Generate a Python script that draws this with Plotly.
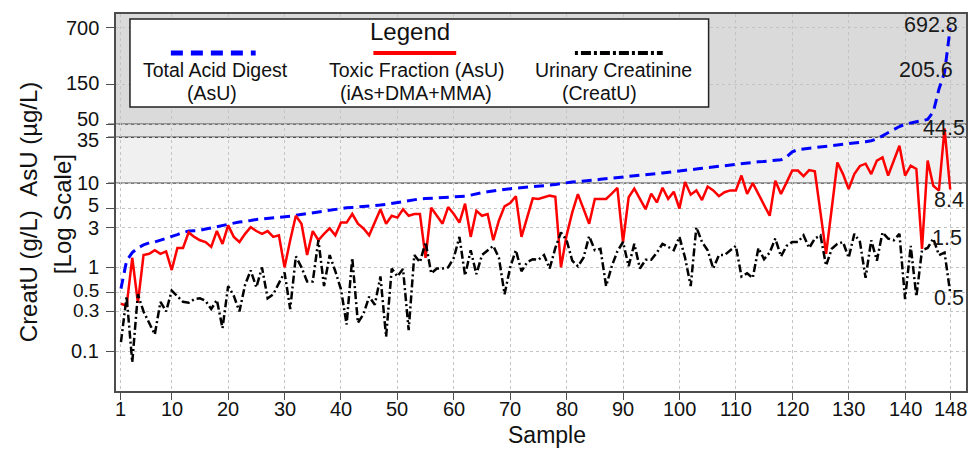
import numpy as np
import plotly.graph_objects as go

# ---------------- data ----------------
total_acid_digest = [
    0.56, 1.2, 1.5, 1.7, 1.85, 1.95, 2.0, 2.1, 2.2, 2.3,
    2.45, 2.6, 2.7, 2.72, 2.75, 2.85, 2.95, 3.05, 3.15, 3.3,
    3.35, 3.45, 3.5, 3.6, 3.7, 3.75, 3.8, 3.85, 3.9, 4.0,
    4.05, 4.15, 4.25, 4.35, 4.45, 4.55, 4.65, 4.75, 4.85, 5.0,
    5.1, 5.15, 5.2, 5.25, 5.3, 5.4, 5.5, 5.6, 5.75, 5.9,
    6.0, 6.2, 6.4, 6.5, 6.55, 6.6, 6.65, 6.7, 6.75, 6.8,
    6.9, 7.0, 7.2, 7.5, 7.7, 7.9, 8.1, 8.3, 8.5, 8.6,
    8.7, 8.8, 8.9, 9.0, 9.1, 9.2, 9.4, 9.6, 9.9, 10.2,
    10.3, 10.4, 10.5, 10.7, 10.9, 11.1, 11.3, 11.5, 11.7, 11.9,
    12.0, 12.2, 12.4, 12.6, 12.8, 13.0, 13.2, 13.4, 13.6, 13.8,
    14.1, 14.4, 14.7, 15.0, 15.3, 15.6, 15.9, 16.2, 16.5, 16.8,
    17.1, 17.5, 17.7, 17.9, 18.1, 18.3, 18.5, 18.9, 20.5, 23.5,
    25.0, 25.5, 26.0, 26.5, 27.0, 27.5, 28.0, 28.5, 29.0, 29.5,
    30.0, 30.5, 31.0, 31.8, 33.5, 36.5, 40.0, 44.0, 47.0, 50.0,
    52.0, 53.5, 55.0, 57.0, 70.0, 130.0, 205.6, 692.8,
]

toxic_fraction = [
    0.37, 0.35, 1.3, 0.38, 1.4, 1.45, 1.6, 1.45, 1.55, 0.93,
    1.7, 1.7, 2.6, 2.3, 2.1, 2.0, 1.75, 2.7, 1.9, 3.15,
    2.3, 2.0, 2.5, 3.0, 2.7, 2.5, 2.7, 2.3, 2.4, 1.0,
    2.1, 4.1, 3.3, 1.4, 2.7, 2.1, 2.5, 2.9, 2.4, 3.4,
    3.4, 4.3, 3.3, 2.9, 2.4, 3.4, 4.9, 3.3, 4.1, 3.9,
    4.9, 4.1, 4.3, 4.3, 1.3, 5.1, 4.1, 3.3, 5.2, 4.3,
    3.4, 5.7, 2.3, 4.7, 4.1, 4.3, 2.1, 3.6, 5.3, 5.8,
    7.0, 2.3, 3.9, 6.6, 6.5, 6.8, 7.1, 6.9, 1.0, 2.4,
    4.5, 7.4, 5.0, 3.3, 6.5, 6.5, 6.5, 7.5, 8.8, 2.0,
    6.8, 8.6, 6.5, 4.9, 7.5, 5.9, 8.8, 6.5, 7.9, 5.0,
    10.3, 7.3, 8.2, 6.3, 9.1, 8.2, 7.0, 7.8, 8.2, 8.2,
    12.3, 7.45, 10.0, 7.45, 5.5, 4.1, 10.7, 7.45, 10.2, 14.1,
    14.1, 12.1, 14.3, 13.8, 4.5, 1.45, 5.0, 17.6, 12.8, 8.5,
    12.8, 16.0, 17.0, 12.8, 18.5, 20.2, 12.3, 18.0, 27.8, 12.3,
    16.1, 14.7, 1.66, 18.5, 9.3, 8.15, 44.5, 8.4,
]

urinary_creatinine = [
    0.13, 0.45, 0.075, 0.48, 0.30, 0.22, 0.16, 0.39, 0.30, 0.53,
    0.45, 0.39, 0.38, 0.42, 0.43, 0.40, 0.32, 0.41, 0.19, 0.60,
    0.46, 0.30, 0.62, 0.92, 0.58, 1.0, 0.43, 0.48, 0.65, 0.87,
    0.32, 1.35, 1.0, 0.68, 0.68, 2.1, 0.6, 1.4, 0.9, 0.55,
    0.21, 1.3, 0.22, 0.28, 0.45, 0.36, 0.78, 0.15, 0.97, 0.78,
    0.96, 0.18, 1.4, 1.15, 2.0, 0.85, 0.97, 0.97, 1.0, 1.3,
    2.3, 0.8, 1.6, 0.83, 1.4, 1.6, 1.8, 1.3, 0.48, 1.0,
    1.6, 0.9, 1.15, 1.25, 1.23, 1.4, 0.97, 1.7, 2.6, 2.1,
    1.2, 1.03, 1.3, 2.35, 1.6, 1.66, 0.6, 1.03, 1.55, 2.0,
    1.03, 1.9, 0.97, 1.23, 1.23, 1.5, 1.9, 1.75, 1.6, 2.3,
    1.3, 0.6, 3.0, 2.0, 1.6, 0.97, 1.4, 1.4, 1.6, 1.8,
    0.78, 0.85, 0.75, 1.7, 1.25, 1.5, 2.2, 1.35, 1.8, 2.0,
    2.0, 2.4, 1.7, 2.2, 2.4, 1.05, 1.66, 1.9, 2.0, 1.3,
    2.5, 2.0, 0.75, 2.1, 1.2, 2.6, 2.2, 2.1, 2.5, 0.42,
    1.8, 0.45, 1.6, 1.7, 2.2, 1.4, 1.5, 0.5,
]

samples = list(range(1, len(total_acid_digest) + 1))

x_tick_values = [1, 10, 20, 30, 40, 50, 60, 70, 80, 90, 100, 110, 120, 130, 140, 148]
y_tick_values = [0.1, 0.3, 0.5, 1, 3, 5, 10, 35, 50, 150, 700]
y_tick_labels = ["0.1", "0.3", "0.5", "1", "3", "5", "10", "35", "50", "150", "700"]

# value labels at the right edge
value_labels = [692.8, 205.6, 44.5, 8.4, 1.5, 0.5]
value_label_texts = ["692.8", "205.6", "44.5", "8.4", "1.5", "0.5"]

# shaded reference bands (lower, upper, colour) and threshold lines
band_edges = [10, 35, 50, 5000]
band_colors = ["#f0f0f0", "#e3e3e3", "#dadada"]
threshold_values = [10, 35, 50]

# ---------------- layout geometry ----------------
W, H = 971, 450
L, R, T, B = 116, 968, 14, 391
X_RANGE = [0.12, 150.8]
Y_RANGE = [-1.467, 3.007]
FONT = "Liberation Sans, Arial, sans-serif"


def px_x(p):
    return (p - L) / (R - L)


def px_y(p):
    return (B - p) / (B - T)


fig = go.Figure()

fig.add_trace(go.Scatter(
    x=samples, y=total_acid_digest, mode="lines", name="Total Acid Digest (AsU)",
    line=dict(color="#0000ff", width=3, dash="10px,6px"),
))
fig.add_trace(go.Scatter(
    x=samples, y=toxic_fraction, mode="lines", name="Toxic Fraction (AsU)",
    line=dict(color="#ff0000", width=2.5),
))
fig.add_trace(go.Scatter(
    x=samples, y=urinary_creatinine, mode="lines", name="Urinary Creatinine (CreatU)",
    line=dict(color="#000000", width=2.5, dash="8px,3px,2px,3px"),
))

shapes = []
for lo, hi, col in zip(band_edges[:-1], band_edges[1:], band_colors):
    shapes.append(dict(type="rect", xref="paper", yref="y", x0=0, x1=1, y0=lo, y1=hi,
                       fillcolor=col, line=dict(width=0), layer="below"))
for v in threshold_values:
    shapes.append(dict(type="line", xref="paper", yref="y", x0=-8 / (R - L), x1=1, y0=v, y1=v,
                       line=dict(color="#4d4d4d", width=1.3), layer="between"))

# custom legend box
shapes.append(dict(type="rect", xref="paper", yref="paper",
                   x0=px_x(130), x1=px_x(710), y0=px_y(107), y1=px_y(19),
                   fillcolor="white", line=dict(color="#222222", width=1.5), layer="above"))
legend_samples = [
    (171, 256, dict(color="#0000ff", width=5, dash="12px,8px")),
    (374, 457, dict(color="#ff0000", width=4)),
    (576, 664, dict(color="#000000", width=4, dash="3px,3px,10px,3px")),
]
for a, b, ln in legend_samples:
    shapes.append(dict(type="line", xref="paper", yref="paper",
                       x0=px_x(a), x1=px_x(b), y0=px_y(53), y1=px_y(53),
                       line=ln, layer="above"))

annotations = []


def ann(text, xp, yp, size, xanchor="center", angle=0, color="#111111"):
    annotations.append(dict(text=text, xref="paper", yref="paper", x=px_x(xp), y=px_y(yp),
                            xanchor=xanchor, yanchor="middle", showarrow=False, textangle=angle,
                            font=dict(family=FONT, size=size, color=color)))


ann("Legend", 411, 32, 24)
ann("Total Acid Digest", 216, 70, 19.5)
ann("(AsU)", 212, 93, 19.5)
ann("Toxic Fraction (AsU)", 418, 70, 19.5)
ann("(iAs+DMA+MMA)", 417, 93, 19.5)
ann("Urinary Creatinine", 615, 70, 19.5)
ann("(CreatU)", 601, 93, 19.5)

# axis titles
ann("CreatU (g/L)\u00a0\u00a0AsU (\u00b5g/L)", 29, 212, 24, angle=-90)
ann("[Log Scale]", 62, 214, 24, angle=-90)
ann("Sample", 548, 435, 23)

# y tick labels (drawn as annotations so the crowded pairs can be nudged apart)
y_label_shift = [-1, -1.0, -2.5, 0, 1, -3.5, 0, 2.7, -5, -1, 0]
y_label_size = [20, 19, 19, 20, 20, 20, 20, 20, 20, 20, 20]
for v, t, dy, sz in zip(y_tick_values, y_tick_labels, y_label_shift, y_label_size):
    annotations.append(dict(text=t, xref="paper", yref="y", x=px_x(101), y=np.log10(v),
                            xanchor="right", yanchor="middle", yshift=-dy, showarrow=False,
                            font=dict(family=FONT, size=sz, color="#111111")))

# x tick labels
for v in x_tick_values:
    annotations.append(dict(text=str(v), xref="x", yref="paper", x=v, y=px_y(409),
                            xanchor="center", yanchor="middle", showarrow=False,
                            font=dict(family=FONT, size=20, color="#111111")))

# right-edge value labels
label_shift = [3.5, 2.5, 0, -10.5, 14.5, -5]
label_right = [962, 957, 969, 968, 966, 968]
for v, t, dy, rx in zip(value_labels, value_label_texts, label_shift, label_right):
    annotations.append(dict(text=t, xref="paper", yref="y", x=px_x(rx), y=np.log10(v),
                            xanchor="right", yanchor="middle", yshift=dy, showarrow=False,
                            font=dict(family=FONT, size=21.5, color="#1a1a1a")))

fig.update_layout(
    width=W, height=H,
    margin=dict(l=L, r=W - R, t=T, b=H - B, pad=0),
    paper_bgcolor="white", plot_bgcolor="white",
    showlegend=False,
    shapes=shapes, annotations=annotations,
    font=dict(family=FONT, color="#111111"),
)
fig.update_xaxes(
    range=X_RANGE, tickmode="array", tickvals=x_tick_values, showticklabels=False,
    ticks="outside", ticklen=7, tickwidth=1.3, tickcolor="#4d4d4d",
    showline=True, linecolor="#4d4d4d", linewidth=1.6, mirror=True,
    showgrid=True, gridcolor="#c4c4c4", griddash="dot", gridwidth=1,
    zeroline=False,
)
fig.update_yaxes(
    type="log", range=Y_RANGE, tickmode="array", tickvals=y_tick_values,
    showticklabels=False,
    ticks="outside", ticklen=8, tickwidth=1.3, tickcolor="#4d4d4d",
    showline=True, linecolor="#4d4d4d", linewidth=1.6, mirror=True,
    showgrid=True, gridcolor="#c4c4c4", griddash="dot", gridwidth=1,
    zeroline=False,
)

fig.write_html(
    "out.html",
    config={"displayModeBar": False},
    post_script="document.body.style.margin='0px';document.body.style.padding='0px';",
)
